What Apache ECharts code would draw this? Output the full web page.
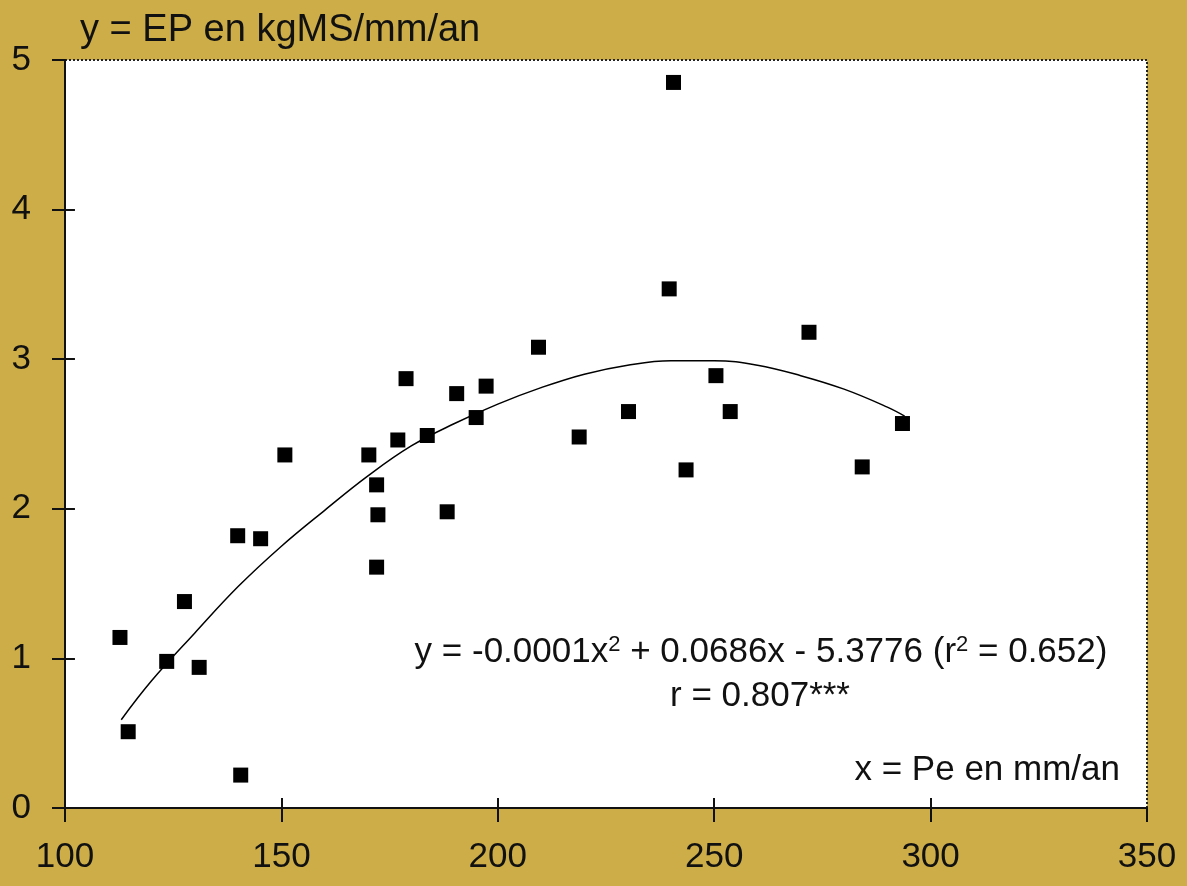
<!DOCTYPE html>
<html>
<head>
<meta charset="utf-8">
<script src="https://cdn.jsdelivr.net/npm/echarts@6/dist/echarts.min.js"></script>
<style>
  html, body { margin: 0; padding: 0; background: #cdad47; }
  #a { width: 1187px; height: 886px; }
</style>
</head>
<body>
<div id="a"></div>
<script>
// Pe (mm/an) et EP (kgMS/mm/an)
var pe = [112.7, 114.6, 123.5, 127.6, 131.0, 139.9, 140.6, 145.2, 150.8, 170.2,
          172.0, 172.3, 172.0, 176.9, 178.8, 183.7, 188.3, 190.5, 195.0, 197.3,
          209.4, 218.8, 230.2, 239.6, 240.6, 243.5, 250.4, 253.7, 271.9, 284.2, 293.5];
var ep = [1.14, 0.51, 0.98, 1.38, 0.94, 1.82, 0.22, 1.80, 2.36, 2.36,
          2.16, 1.96, 1.61, 2.46, 2.87, 2.49, 1.98, 2.77, 2.61, 2.82,
          3.08, 2.48, 2.65, 3.47, 4.85, 2.26, 2.89, 2.65, 3.18, 2.28, 2.57];

// courbe de tendance (polynomiale)
var trendX = [113, 120, 130, 140, 150, 160, 170, 180, 190, 200, 210, 220, 230, 240, 250, 260, 270, 280, 290, 294];
var trendY = [0.59, 0.85, 1.17, 1.48, 1.75, 1.99, 2.22, 2.42, 2.57, 2.70, 2.81, 2.90, 2.96, 2.99, 2.99, 2.96, 2.89, 2.80, 2.68, 2.62];

var xTicks = [100, 150, 200, 250, 300, 350];
var yTicks = [0, 1, 2, 3, 4, 5];

var FONT = '"Liberation Sans", Arial, sans-serif';
var INK = '#111';

var myechart = echarts.init(document.getElementById('a'));

var pts = pe.map(function (x, i) { return [x, ep[i]]; });
var trend = trendX.map(function (x, i) { return [x, trendY[i]]; });

option = {
  backgroundColor: '#cdad47',
  animation: false,
  grid: {
    left: 65, right: 40, top: 60, bottom: 78,
    show: true,
    backgroundColor: '#fff',
    borderColor: '#222',
    borderWidth: 2,
    borderType: [2, 2]
  },
  xAxis: {
    type: 'value',
    min: xTicks[0], max: xTicks[xTicks.length - 1], interval: 50,
    splitLine: { show: false },
    axisLine: { onZero: false, lineStyle: { color: INK, width: 2 } },
    axisTick: { inside: false, length: 14, lineStyle: { color: INK, width: 2 } },
    axisLabel: { margin: 32, fontSize: 35, fontFamily: FONT, color: INK }
  },
  yAxis: {
    type: 'value',
    min: yTicks[0], max: yTicks[yTicks.length - 1], interval: 1,
    splitLine: { show: false },
    axisLine: { onZero: false, lineStyle: { color: INK, width: 2 } },
    axisTick: { inside: false, length: 13, lineStyle: { color: INK, width: 2 } },
    axisLabel: { margin: 34, fontSize: 35, fontFamily: FONT, color: INK }
  },
  graphic: [
    { type: 'text', left: 80, top: 12, style: { text: 'y = EP en kgMS/mm/an', fontSize: 38, fontFamily: FONT, fill: INK } },
    {
      type: 'text', x: 761, y: 652,
      style: {
        text: 'y = -0.0001x{s|2} + 0.0686x - 5.3776 (r{s|2} = 0.652)',
        align: 'center', verticalAlign: 'middle',
        fontSize: 35, fontFamily: FONT, fill: INK,
        rich: { s: { fontSize: 22, fontFamily: FONT, fill: INK, verticalAlign: 'top', padding: [0, 0, 14, 0] } }
      }
    },
    { type: 'text', x: 760, y: 696, style: { text: 'r = 0.807***', align: 'center', verticalAlign: 'middle', fontSize: 35, fontFamily: FONT, fill: INK } },
    { type: 'text', x: 1120, y: 770, style: { text: 'x = Pe en mm/an', align: 'right', verticalAlign: 'middle', fontSize: 35, fontFamily: FONT, fill: INK } }
  ],
  series: [
    {
      name: 'tendance',
      type: 'line',
      data: trend,
      smooth: 0.4,
      symbol: 'none',
      lineStyle: { color: '#000', width: 1.5 },
      z: 2,
      // petits traits de graduation côté intérieur du cadre
      markLine: {
        silent: true,
        symbol: 'none',
        label: { show: false },
        lineStyle: { color: INK, width: 2, type: 'solid' },
        data: xTicks.slice(1, -1).map(function (v) {
          return [{ coord: [v, yTicks[0]] }, { coord: [v, yTicks[0] + 0.067] }];
        }).concat(yTicks.slice(1, -1).map(function (v) {
          return [{ coord: [xTicks[0], v] }, { coord: [xTicks[0] + 2.3, v] }];
        }))
      }
    },
    {
      name: 'EP',
      type: 'scatter',
      data: pts,
      symbol: 'rect',
      symbolSize: 15,
      itemStyle: { color: '#000', opacity: 1 },
      z: 3
    }
  ]
};
myechart.setOption(option);
</script>
</body>
</html>
